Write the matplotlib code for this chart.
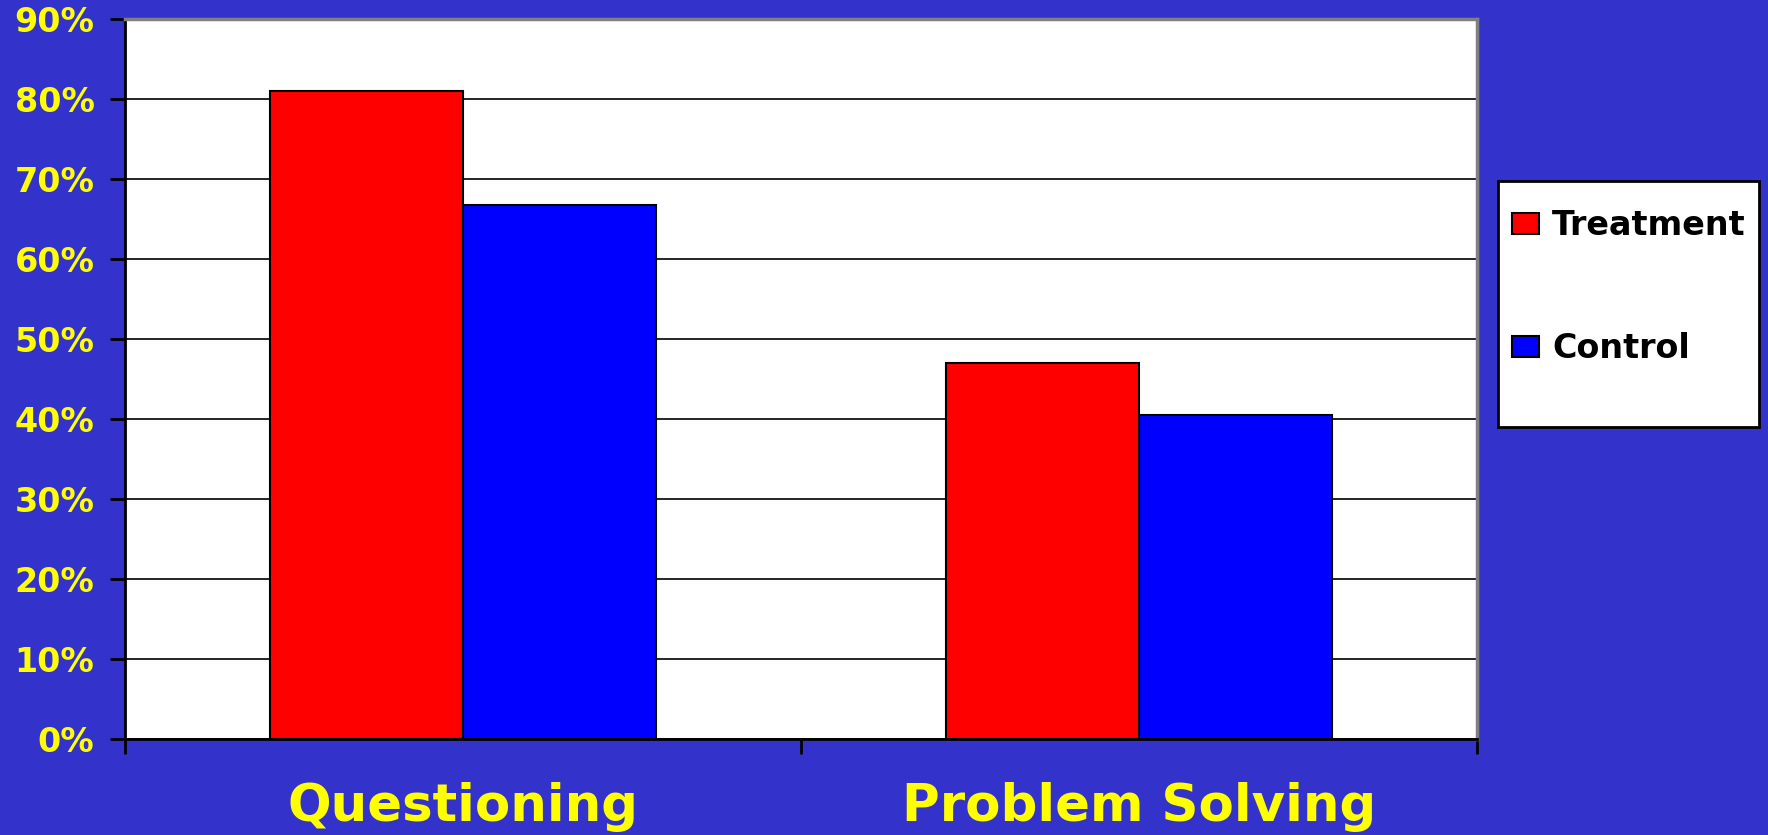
"""Treatment vs control bar chart (slide style, blue background)."""
import matplotlib
matplotlib.use("Agg")
import matplotlib.pyplot as plt
from matplotlib.patches import Rectangle
import numpy as np

categories = ["Questioning", "Problem Solving"]
series = ["Treatment", "Control"]
treatment = [81.0, 47.0]
control = [66.7, 40.5]
yticks = [0, 10, 20, 30, 40, 50, 60, 70, 80, 90]

BG = "#3333CC"
YEL = "#FFFF00"
COL = ["#FF0000", "#0000FF"]

plt.rcParams["font.family"] = "DejaVu Sans"
plt.rcParams["font.weight"] = "bold"

fig = plt.figure(figsize=(17.68, 8.35), dpi=100, facecolor=BG)
ax = fig.add_axes([0.0707, 0.115, 0.7647, 0.8623])
ax.set_facecolor("white")

x = np.arange(len(categories)); w = 0.286
vals = [treatment, control]
for i, name in enumerate(series):
    ax.bar(x + (i - 0.5) * w, vals[i], w, color=COL[i], edgecolor="black",
           linewidth=1.5, label=name, zorder=3)

ax.set_xlim(-0.5, len(categories) - 0.5)
ax.set_ylim(0, 90)
ax.set_yticks(yticks)
ax.set_yticklabels([f"{v}%" for v in yticks])
ax.yaxis.grid(True, color="black", linewidth=1.2, zorder=1)
ax.set_axisbelow(True)

# boundary ticks (major) and category labels (minor)
ax.set_xticks(np.arange(-0.5, len(categories), 1.0))
ax.set_xticklabels([])
ax.set_xticks(x, minor=True)
ax.set_xticklabels(categories, minor=True)
ax.tick_params(axis="x", which="major", direction="out", length=11, width=2, color="black")
ax.tick_params(axis="x", which="minor", length=0, pad=31, labelsize=37, labelcolor=YEL)
ax.tick_params(axis="y", direction="out", length=11, width=2, color="black",
               pad=11, labelsize=24, labelcolor=YEL)

for s in ["left", "bottom"]:
    ax.spines[s].set_color("black"); ax.spines[s].set_linewidth(2)
for s in ["top", "right"]:
    ax.spines[s].set_color("#808080"); ax.spines[s].set_linewidth(2.5)

# legend box
fig.patches.append(Rectangle((1498 / 1768, 1 - 427 / 835), 261 / 1768, 246 / 835,
                             transform=fig.transFigure, facecolor="white",
                             edgecolor="black", linewidth=2, zorder=0))
leg = fig.legend(loc="center left", bbox_to_anchor=(1512 / 1768, 0.6557),
                 frameon=False, fontsize=24, borderpad=0, borderaxespad=0,
                 handlelength=0.81, handleheight=0.6, handletextpad=0.39,
                 labelspacing=2.7)
for t in leg.get_texts():
    t.set_fontweight("bold")

plt.savefig("out.png", dpi=100, facecolor=fig.get_facecolor())
plt.close()
